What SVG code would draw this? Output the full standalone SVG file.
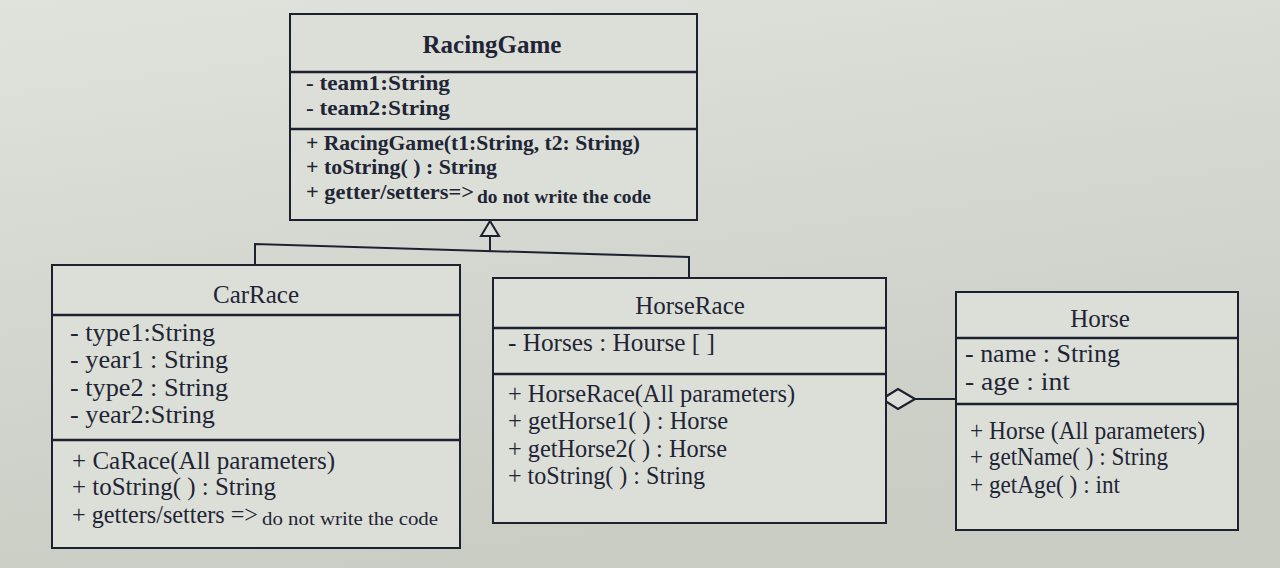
<svg xmlns="http://www.w3.org/2000/svg" width="1280" height="568" viewBox="0 0 1280 568">
<defs>
<linearGradient id="bg" x1="0" y1="0" x2="0.3" y2="1">
<stop offset="0" stop-color="#e0e2dc"/>
<stop offset="1" stop-color="#c9cdc4"/>
</linearGradient>
</defs>
<style>
.box{fill:#dcdfd7;stroke:#1c2130;stroke-width:2}
.div{stroke:#1c2130;stroke-width:2.5}
.t{font-family:"Liberation Serif",serif;font-size:25px;fill:#1f2536}
.b{font-weight:bold}
.m{font-size:22px}
.s{font-size:19px}
.title{font-size:25px;text-anchor:middle}
.con{fill:none;stroke:#1c2130;stroke-width:2}
</style>
<rect width="1280" height="568" fill="url(#bg)"/>
<g id="connectors">
<polyline class="con" points="255,265 255,244 689,257 689,278"/>
<line class="con" x1="490" y1="237" x2="490" y2="251"/>
<polygon points="490,221 481,236 499,236" fill="#dcdfd7" stroke="#1c2130" stroke-width="2"/>
<line class="con" x1="915" y1="399" x2="956" y2="399"/>
<polygon points="882,399 898,389 915,399 898,409" fill="#dcdfd7" stroke="#1c2130" stroke-width="2.2"/>
</g>
<g id="RacingGame">
<rect class="box" x="290" y="14" width="407" height="206"/>
<line class="div" x1="290" y1="72" x2="697" y2="72"/>
<line class="div" x1="290" y1="129" x2="697" y2="129"/>
<text class="t title b" x="492" y="53" font-size="26">RacingGame</text>
<text class="t b m" x="306" y="90" textLength="144" lengthAdjust="spacingAndGlyphs">-  team1:String</text>
<text class="t b m" x="306" y="115" textLength="144" lengthAdjust="spacingAndGlyphs">-  team2:String</text>
<text class="t b m" x="306" y="150" textLength="334" lengthAdjust="spacingAndGlyphs">+ RacingGame(t1:String, t2: String)</text>
<text class="t b m" x="306" y="174" textLength="191" lengthAdjust="spacingAndGlyphs">+ toString( ) : String</text>
<text class="t b m" x="306" y="199" textLength="168" lengthAdjust="spacingAndGlyphs">+ getter/setters=&gt;</text>
<text class="t b s" x="477" y="203" textLength="174" lengthAdjust="spacingAndGlyphs">do not write the code</text>
</g>
<g id="CarRace">
<rect class="box" x="52" y="265" width="408" height="283"/>
<line class="div" x1="52" y1="315" x2="460" y2="315"/>
<line class="div" x1="52" y1="440" x2="460" y2="440"/>
<text class="t title" x="256" y="303">CarRace</text>
<text class="t" x="70" y="341" textLength="145" lengthAdjust="spacingAndGlyphs">-  type1:String</text>
<text class="t" x="70" y="368" textLength="158" lengthAdjust="spacingAndGlyphs">-  year1 : String</text>
<text class="t" x="70" y="396" textLength="158" lengthAdjust="spacingAndGlyphs">-  type2 : String</text>
<text class="t" x="70" y="423" textLength="145" lengthAdjust="spacingAndGlyphs">-  year2:String</text>
<text class="t" x="72" y="469" textLength="263" lengthAdjust="spacingAndGlyphs">+ CaRace(All parameters)</text>
<text class="t" x="72" y="495" textLength="204" lengthAdjust="spacingAndGlyphs">+ toString(  ) : String</text>
<text class="t" x="72" y="523" textLength="186" lengthAdjust="spacingAndGlyphs">+ getters/setters =&gt;</text>
<text class="t s" x="262" y="525" textLength="176" lengthAdjust="spacingAndGlyphs">do not write the code</text>
</g>
<g id="HorseRace">
<rect class="box" x="493" y="278" width="393" height="245"/>
<line class="div" x1="493" y1="328" x2="886" y2="328"/>
<line class="div" x1="493" y1="374" x2="886" y2="374"/>
<text class="t title" x="690" y="314">HorseRace</text>
<text class="t" x="508" y="351" textLength="207" lengthAdjust="spacingAndGlyphs">-  Horses : Hourse [ ]</text>
<text class="t" x="508" y="402" textLength="287" lengthAdjust="spacingAndGlyphs">+ HorseRace(All parameters)</text>
<text class="t" x="508" y="429" textLength="220" lengthAdjust="spacingAndGlyphs">+ getHorse1( ) : Horse</text>
<text class="t" x="508" y="457" textLength="219" lengthAdjust="spacingAndGlyphs">+ getHorse2( ) : Horse</text>
<text class="t" x="508" y="484" textLength="197" lengthAdjust="spacingAndGlyphs">+ toString(  ) : String</text>
</g>
<g id="Horse">
<rect class="box" x="956" y="292" width="282" height="238"/>
<line class="div" x1="956" y1="338" x2="1238" y2="338"/>
<line class="div" x1="956" y1="404" x2="1238" y2="404"/>
<text class="t title" x="1100" y="327">Horse</text>
<text class="t" x="965" y="362" textLength="155" lengthAdjust="spacingAndGlyphs">-  name : String</text>
<text class="t" x="965" y="390" textLength="105" lengthAdjust="spacingAndGlyphs">-  age : int</text>
<text class="t" x="970" y="439" textLength="235" lengthAdjust="spacingAndGlyphs">+ Horse (All parameters)</text>
<text class="t" x="970" y="465" textLength="198" lengthAdjust="spacingAndGlyphs">+ getName( ) : String</text>
<text class="t" x="970" y="493" textLength="150" lengthAdjust="spacingAndGlyphs">+ getAge( ) : int</text>
</g>
</svg>
